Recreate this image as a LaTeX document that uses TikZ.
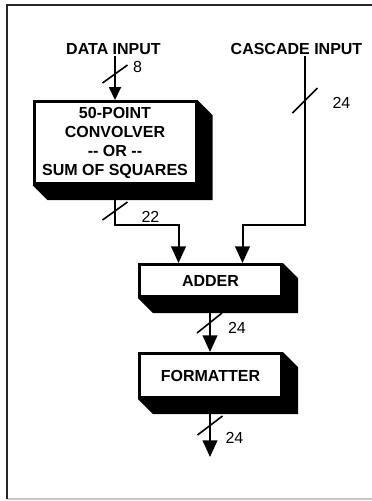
\documentclass[tikz,border=0pt]{standalone}
\usepackage{fontspec}
\setmainfont{Liberation Sans}
\usetikzlibrary{arrows.meta}

\begin{document}
\begin{tikzpicture}[x=0.75pt,y=-0.75pt,
  block/.style={draw,line width=2.25pt,fill=white,align=center,inner sep=0pt,
    font=\fontsize{12}{14.25}\selectfont\bfseries},
  iolabel/.style={font=\fontsize{12}{14}\selectfont\bfseries,inner sep=1pt},
  bus/.style={line width=1.5pt,-{Triangle[width=11pt,length=12.5pt]}},
  busslash/.style={line width=1.2pt},
  buswidth/.style={font=\fontsize{12}{14}\selectfont,inner sep=0pt}]
\useasboundingbox (0,0) rectangle (372,501);
% frame
\draw[gray!45,line width=1pt] (7,499) -- (372,499);
\draw[black!85,line width=1.6pt] (7,499) -- (7,5) -- (372,5);
% blocks
\node[iolabel] (datain) at (113.5,49) {DATA INPUT};
\node[iolabel] (casin) at (296.5,49) {CASCADE INPUT};
\node[block,minimum width=121.5pt,minimum height=61.5pt] (conv) at (115,142.5)
  {50-POINT\\CONVOLVER\\-\kern0pt- OR -\kern0pt-\\SUM OF SQUARES};
\node[block,minimum width=106.5pt,minimum height=24pt] (adder) at (210.5,280.5) {ADDER};
\node[block,minimum width=106.5pt,minimum height=33pt] (fmt) at (210.5,375.5) {FORMATTER};
\foreach \b in {conv,adder,fmt}
  \fill (\b.north east) -- ([shift={(15,15)}]\b.north east) -- ([shift={(15,15)}]\b.south east)
    -- ([shift={(15,15)}]\b.south west) -- (\b.south west) -- (\b.south east) -- cycle;
% connectors
\coordinate (cjoin) at (305,225);
\coordinate (out) at (210,457);
\draw[line width=1.5pt,-{Triangle[width=9pt,length=9.75pt]}] (datain.south -| conv.north) -- (conv.north);
\draw[bus] (conv.south) -- ++(0,40) -| ([xshift=-24]adder.north);
\draw[bus] (casin.south -| cjoin) -- (cjoin) -| ([xshift=24]adder.north);
\draw[bus] (adder.south -| out) -- (fmt.north -| out);
\draw[bus] (fmt.south -| out) -- (out);
% bus widths
\foreach \x/\y/\d in {115/74/9,305/100.5/12.5,115/211/9,209.5/323/10,210/425.5/9.5}
  \draw[busslash] (\x-12.5,\y+\d) -- (\x+12.5,\y-\d);
\node[buswidth] (wdata) at (137.5,67) {8};
\node[buswidth] (wcas) at (341.5,103) {24};
\node[buswidth] (wconv) at (150.5,217) {22};
\node[buswidth] (wadder) at (237,328) {24};
\node[buswidth] (wfmt) at (234.5,437.5) {24};
\end{tikzpicture}
\end{document}
